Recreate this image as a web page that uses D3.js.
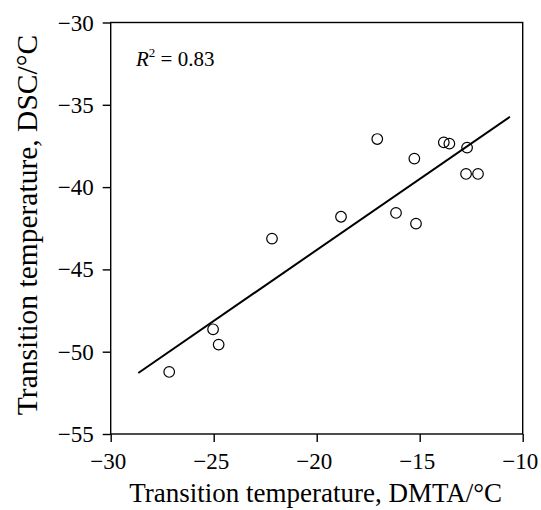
<!DOCTYPE html>
<html>
<head>
<meta charset="utf-8">
<script src="https://cdn.jsdelivr.net/npm/d3@7"></script>
<style>
  body { margin: 0; background: #fff; }
  svg text { font-family: "Liberation Serif", "Times New Roman", serif; fill: #000; }
</style>
</head>
<body>
<div id="chart"></div>
<script>
// DMTA vs DSC transition temperatures (°C)
const dmta = [-27.16, -25.03, -24.76, -22.17, -18.82, -17.06, -16.15, -15.26, -15.18, -13.83, -13.56, -12.70, -12.75, -12.17];
const dsc  = [-51.23, -48.64, -49.57, -43.13, -41.80, -37.08, -41.57, -38.27, -42.22, -37.28, -37.36, -37.60, -39.20, -39.20];

// fitted line as drawn
const fitRange = [-28.66, -10.62];
const fitSlope = 0.863;
const fitIntercept = -26.56;
const r2Text = "0.83";

const xTicks = [-30, -25, -20, -15, -10];
const yTicks = [-30, -35, -40, -45, -50, -55];

(function(){
    const width = 541, height = 510;
    const margin = { top: 22.5, right: 18.3, bottom: 76, left: 110.7 };
    const w = width - margin.left - margin.right;
    const h = height - margin.top - margin.bottom;
    const serif = '"Liberation Serif", "Times New Roman", serif';

    const svg = d3.select("#chart").append("svg")
        .attr("width", width)
        .attr("height", height);

    const g = svg.append("g")
        .attr("transform", `translate(${margin.left},${margin.top})`);

    const x = d3.scaleLinear().domain([-30, -10]).range([0, w]);
    const y = d3.scaleLinear().domain([-55, -30]).range([h, 0]);

    const fmt = d => d3.format("d")(d).replace("-", "\u2212");

    // axes
    const xAxis = g.append("g")
        .attr("transform", `translate(0,${h})`)
        .call(d3.axisBottom(x).tickValues(xTicks).tickSize(8).tickFormat(fmt));
    const yAxis = g.append("g")
        .call(d3.axisLeft(y).tickValues(yTicks).tickSize(8).tickPadding(9).tickFormat(fmt));

    [xAxis, yAxis].forEach(a => {
        a.attr("font-family", serif).attr("font-size", 23);
        a.select(".domain").remove();
        a.selectAll("line").attr("stroke", "#000").attr("stroke-width", 1.4);
        a.selectAll("text")
            .style("font-family", serif)
            .style("font-size", "23px")
            .attr("fill", "#000");
    });
    xAxis.selectAll("text").attr("y", 34.7).attr("dy", 0).attr("dx", -3);
    yAxis.selectAll("text").attr("dy", "0.33em");

    // frame
    g.append("rect")
        .attr("width", w)
        .attr("height", h)
        .attr("fill", "none")
        .attr("stroke", "#000")
        .attr("stroke-width", 1.4);

    // regression line
    g.append("line")
        .attr("x1", x(fitRange[0]))
        .attr("y1", y(fitSlope * fitRange[0] + fitIntercept))
        .attr("x2", x(fitRange[1]))
        .attr("y2", y(fitSlope * fitRange[1] + fitIntercept))
        .attr("stroke", "#000")
        .attr("stroke-width", 2);

    // points
    g.selectAll("circle.pt")
        .data(dmta.map((d, i) => ({ x: d, y: dsc[i] })))
        .join("circle")
        .attr("class", "pt")
        .attr("cx", d => x(d.x))
        .attr("cy", d => y(d.y))
        .attr("r", 5.3)
        .attr("fill", "none")
        .attr("stroke", "#000")
        .attr("stroke-width", 1.2);

    // R² annotation
    const r2 = g.append("text")
        .attr("x", 136 - margin.left)
        .attr("y", 66 - margin.top)
        .style("font-size", "21px");
    r2.append("tspan").style("font-style", "italic").text("R");
    r2.append("tspan").attr("dy", -9).style("font-size", "13px").text("2");
    r2.append("tspan").attr("dy", 9).text(" = " + r2Text);

    // axis titles
    svg.append("text")
        .attr("x", margin.left + w / 2 - 1)
        .attr("y", 502)
        .attr("text-anchor", "middle")
        .style("font-size", "27px")
        .text("Transition temperature, DMTA/\u00B0C");

    svg.append("text")
        .attr("transform", `translate(37,${225}) rotate(-90)`)
        .attr("text-anchor", "middle")
        .style("font-size", "29.5px")
        .text("Transition temperature, DSC/\u00B0C");
})();
</script>
</body>
</html>
